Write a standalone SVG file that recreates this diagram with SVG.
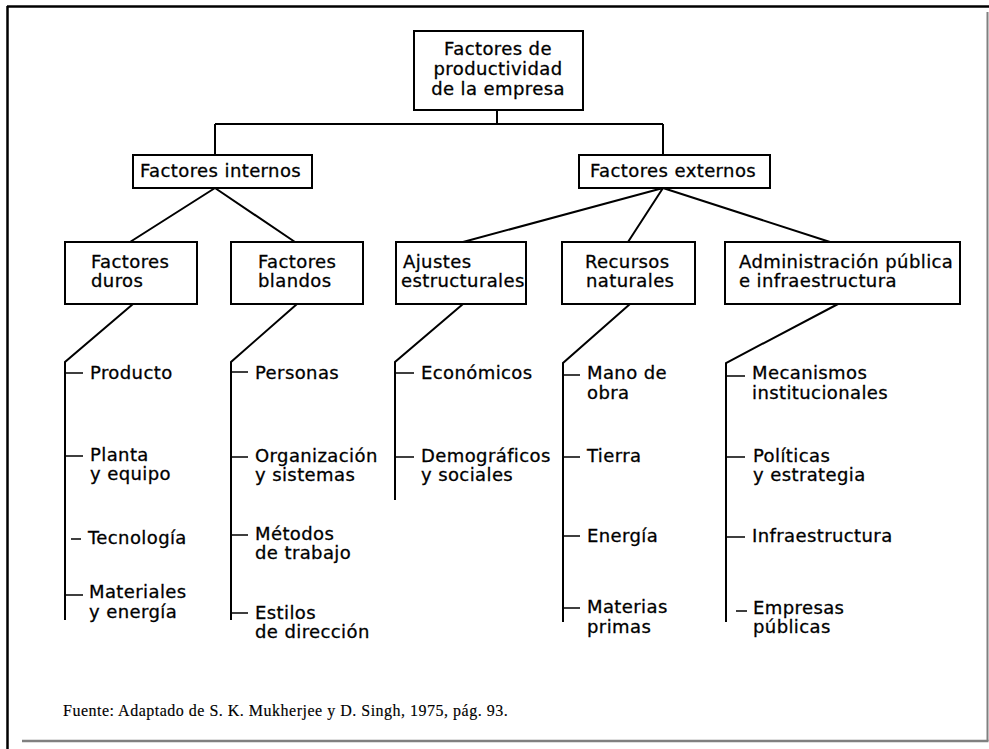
<svg xmlns="http://www.w3.org/2000/svg" width="989" height="749" viewBox="0 0 989 749">
<style>
.box{fill:#fff;stroke:#000;stroke-width:2}
.ln{fill:none;stroke:#000;stroke-width:2}
.tk{fill:none;stroke:#000;stroke-width:1.6}
text{font-family:"DejaVu Sans","Liberation Sans",sans-serif;font-size:18px;letter-spacing:0.4px;fill:#000;stroke:#000;stroke-width:0.3}
.c{text-anchor:middle}
.src{font-family:"Liberation Serif","Times New Roman",serif;font-size:16px;letter-spacing:0.5px;stroke-width:0.15}
</style>
<rect width="989" height="749" fill="#fff"/>
<g id="frame">
<line x1="7" y1="6.5" x2="989" y2="6.5" stroke="#000" stroke-width="2.5"/>
<line x1="7.5" y1="6" x2="7.5" y2="749" stroke="#000" stroke-width="2.5"/>
<line x1="987.5" y1="12" x2="987.5" y2="741" stroke="#808080" stroke-width="2"/>
<line x1="22" y1="741" x2="988.5" y2="741" stroke="#808080" stroke-width="2.5"/>
</g>
<g id="connectors">
<path class="ln" d="M497,110 V124 M215,124 H663 M215,124 V155 M663,124 V155"/>
<path class="ln" d="M215,188 L130,242 M215,188 L295,242"/>
<path class="ln" d="M663,188 L463,242 M663,188 L628,242 M663,188 L830,242"/>
<path class="ln" d="M133,304 L65,362 V620"/>
<path class="ln" d="M297,304 L231,362 V620"/>
<path class="ln" d="M463,304 L395,362 V500"/>
<path class="ln" d="M630,304 L563,363 V622"/>
<path class="ln" d="M838,304 L726,363 V622"/>
<path class="tk" d="M65,373 H83 M65,456 H83 M71,539 H81 M65,595 H83"/>
<path class="tk" d="M231,372 H248 M231,457 H248 M231,535 H248 M231,613 H248"/>
<path class="tk" d="M395,373 H414 M395,457 H414"/>
<path class="tk" d="M563,375 H580 M563,457 H580 M563,536 H580 M563,608 H580"/>
<path class="tk" d="M726,376 H745 M726,457 H745 M726,537 H745 M736,611 H747"/>
</g>
<g id="root">
<rect class="box" x="414" y="31" width="169" height="79"/>
<text class="c" x="498" y="55">Factores de</text>
<text class="c" x="498" y="75">productividad</text>
<text class="c" x="498" y="95">de la empresa</text>
</g>
<g id="internos">
<rect class="box" x="133" y="155" width="179" height="33"/>
<text x="140" y="177">Factores internos</text>
</g>
<g id="externos">
<rect class="box" x="579" y="155" width="191" height="33"/>
<text x="590" y="177">Factores externos</text>
</g>
<g id="duros">
<rect class="box" x="65" y="242" width="132" height="62"/>
<text x="91" y="268">Factores</text>
<text x="91" y="287">duros</text>
</g>
<g id="blandos">
<rect class="box" x="231" y="242" width="132" height="62"/>
<text x="258" y="268">Factores</text>
<text x="258" y="287">blandos</text>
</g>
<g id="ajustes">
<rect class="box" x="396" y="242" width="130" height="62"/>
<text x="403" y="268">Ajustes</text>
<text x="401" y="287">estructurales</text>
</g>
<g id="recursos">
<rect class="box" x="562" y="242" width="133" height="62"/>
<text x="585" y="268">Recursos</text>
<text x="586" y="287">naturales</text>
</g>
<g id="admin">
<rect class="box" x="725" y="242" width="235" height="62"/>
<text x="739" y="268">Administración pública</text>
<text x="739" y="287">e infraestructura</text>
</g>
<g id="duros-items">
<text x="90" y="379">Producto</text>
<text x="90" y="461">Planta</text>
<text x="90" y="480">y equipo</text>
<text x="88" y="544">Tecnología</text>
<text x="89" y="598">Materiales</text>
<text x="89" y="618">y energía</text>
</g>
<g id="blandos-items">
<text x="255" y="379">Personas</text>
<text x="255" y="462">Organización</text>
<text x="255" y="481">y sistemas</text>
<text x="255" y="540">Métodos</text>
<text x="255" y="559">de trabajo</text>
<text x="255" y="619">Estilos</text>
<text x="255" y="638">de dirección</text>
</g>
<g id="ajustes-items">
<text x="421" y="379">Económicos</text>
<text x="421" y="462">Demográficos</text>
<text x="421" y="481">y sociales</text>
</g>
<g id="recursos-items">
<text x="587" y="379">Mano de</text>
<text x="587" y="399">obra</text>
<text x="587" y="462">Tierra</text>
<text x="587" y="542">Energía</text>
<text x="587" y="613">Materias</text>
<text x="587" y="633">primas</text>
</g>
<g id="admin-items">
<text x="752" y="379">Mecanismos</text>
<text x="752" y="399">institucionales</text>
<text x="753" y="462">Políticas</text>
<text x="753" y="481">y estrategia</text>
<text x="752" y="542">Infraestructura</text>
<text x="753" y="614">Empresas</text>
<text x="753" y="633">públicas</text>
</g>
<text class="src" x="63" y="716">Fuente: Adaptado de S. K. Mukherjee y D. Singh, 1975, pág. 93.</text>
</svg>
